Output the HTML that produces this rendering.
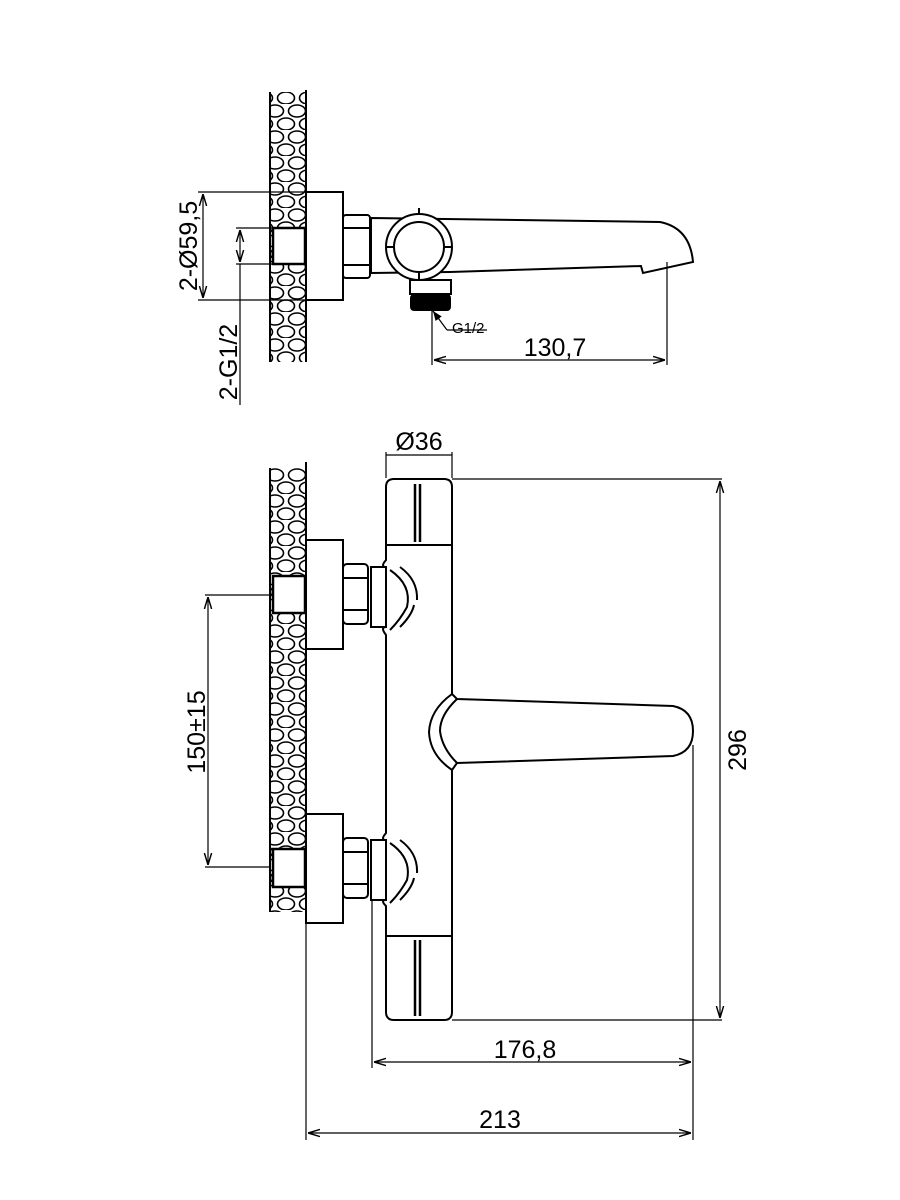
<!DOCTYPE html>
<html><head><meta charset="utf-8"><style>body{margin:0;background:#fff}svg{display:block}</style></head><body>
<svg width="900" height="1200" viewBox="0 0 900 1200" xmlns="http://www.w3.org/2000/svg" font-family="Liberation Sans, sans-serif">
<defs>
<pattern id="peb" width="22" height="26" patternUnits="userSpaceOnUse">
<rect width="22" height="26" fill="#fff"/>
<ellipse cx="11" cy="7" rx="8.5" ry="6" fill="none" stroke="#000" stroke-width="1.6"/>
<ellipse cx="0" cy="20" rx="8.5" ry="6" fill="none" stroke="#000" stroke-width="1.6"/>
<ellipse cx="22" cy="20" rx="8.5" ry="6" fill="none" stroke="#000" stroke-width="1.6"/>
</pattern>
<marker id="a" viewBox="0 0 10 10" refX="10" refY="5" markerWidth="10" markerHeight="10" orient="auto-start-reverse"><path d="M0,2 L10,5 L0,8" fill="none" stroke="#000" stroke-width="1.2"/></marker>
<marker id="f" viewBox="0 0 10 10" refX="10" refY="5" markerWidth="8" markerHeight="8" orient="auto"><path d="M0,1 L10,5 L0,9 Z" fill="#000"/></marker>
</defs>
<g stroke="#000" fill="none" stroke-width="2">
<!-- TOP VIEW -->
<path d="M270,92 L306,92 L306,362 L270,362 Z" fill="url(#peb)" stroke="none"/>
<path d="M270,92 L270,362 M306,90 L306,362"/>
<rect x="306" y="192" width="37" height="108" fill="#fff"/>
<rect x="273" y="228" width="32" height="36" fill="#fff" stroke-width="2.5"/>
<rect x="343" y="215" width="27" height="63" rx="3" fill="#fff"/>
<path d="M343,228 L370,228 M343,265 L370,265"/>
<path d="M371,218 L660,222 Q690,228 693,262 L643,273 L641,266 L450,272 L371,273 Z" fill="#fff"/>
<circle cx="419" cy="247" r="33" fill="#fff"/>
<circle cx="419" cy="247" r="25"/>
<path d="M419,214 L419,208 M419,280 L419,272 M386,247 L394,247 M444,247 L452,247"/>
<rect x="410" y="280" width="41" height="14" fill="#fff"/>
<rect x="411" y="295" width="39" height="15" rx="3" fill="#000"/>
<!-- top dims -->
<g stroke-width="1.2">
<path d="M198,192 L306,192 M198,300 L306,300 M236,228 L273,228 M236,264 L273,264"/>
<path d="M203,194 L203,298" marker-start="url(#a)" marker-end="url(#a)"/>
<path d="M240,230 L240,262" marker-start="url(#a)" marker-end="url(#a)"/>
<path d="M240,264 L240,405"/>
<path d="M432,298 L432,365 M667,262 L667,365"/>
<path d="M434,360 L665,360" marker-start="url(#a)" marker-end="url(#a)"/>
<path d="M447,330 L433,311" marker-end="url(#f)"/>
<path d="M447,330 L487,330"/>
</g>
<!-- FRONT VIEW -->
<path d="M270,468 L306,468 L306,912 L270,912 Z" fill="url(#peb)" stroke="none"/>
<path d="M270,468 L270,912 M306,462 L306,914"/>
<rect x="306" y="540" width="37" height="109" fill="#fff"/>
<rect x="306" y="814" width="37" height="109" fill="#fff"/>
<rect x="273" y="576" width="32" height="37" fill="#fff" stroke-width="2.5"/>
<rect x="273" y="849" width="32" height="38" fill="#fff" stroke-width="2.5"/>
<rect x="343" y="564" width="25" height="60" rx="4" fill="#fff"/>
<path d="M343,578 L368,578 M343,610 L368,610"/>
<rect x="343" y="838" width="25" height="60" rx="4" fill="#fff"/>
<path d="M343,852 L368,852 M343,884 L368,884"/>
<path d="M371,567 L386,567 L386,627 L371,627 Z M371,840 L386,840 L386,900 L371,900 Z" fill="#fff"/>
<path d="M386,545 L386,560 Q380,567 386,567 M386,627 Q380,627 386,635 L386,833 Q380,840 386,840 M386,900 Q380,900 386,906 L386,936"/>
<path d="M452,545 L452,694 M452,770 L452,936"/>
<path d="M390,570 Q412,585 407,607 Q400,620 390,630 M400,567 Q418,580 417,600 M400,627 Q412,615 414,605"/>
<path d="M390,843 Q412,858 407,880 Q400,893 390,903 M400,840 Q418,853 417,873 M400,900 Q412,888 414,878"/>
<path d="M386,487 Q386,479 394,479 L444,479 Q452,479 452,487 L452,545 L386,545 Z" fill="#fff"/>
<path d="M386,936 L452,936 L452,1012 Q452,1020 444,1020 L394,1020 Q386,1020 386,1012 Z" fill="#fff"/>
<path d="M415,484 L415,542 M420,484 L420,542 M415,940 L415,1016 M420,940 L420,1016" stroke-width="2.5"/>
<path d="M452,694 Q430,710 429,732 Q430,755 452,770"/>
<path d="M452,694 L457,699 L673,706 Q693,710 693,731 Q693,752 673,756 L457,763 L452,770"/>
<path d="M457,699 Q440,715 440,731 Q442,748 457,763"/>
<!-- front dims -->
<g stroke-width="1.2">
<path d="M386,478 L386,452 M452,478 L452,452"/>
<path d="M386,455 L452,455"/>
<path d="M452,479 L722,479 M452,1020 L722,1020"/>
<path d="M720,481 L720,1018" marker-start="url(#a)" marker-end="url(#a)"/>
<path d="M693,745 L693,1140 M372,900 L372,1068 M306,912 L306,1140"/>
<path d="M374,1062 L691,1062" marker-start="url(#a)" marker-end="url(#a)"/>
<path d="M308,1133 L691,1133" marker-start="url(#a)" marker-end="url(#a)"/>
<path d="M205,595 L270,595 M205,867 L270,867"/>
<path d="M208,597 L208,865" marker-start="url(#a)" marker-end="url(#a)"/>
</g>
</g>
<g fill="#000" font-size="25">
<text x="0" y="0" transform="translate(197,246) rotate(-90)" text-anchor="middle">2-Ø59,5</text>
<text x="0" y="0" transform="translate(237,362) rotate(-90)" text-anchor="middle">2-G1/2</text>
<text x="452" y="333" font-size="15">G1/2</text>
<text x="555" y="356" text-anchor="middle">130,7</text>
<text x="419" y="450" text-anchor="middle">Ø36</text>
<text x="0" y="0" transform="translate(746,750) rotate(-90)" text-anchor="middle">296</text>
<text x="0" y="0" transform="translate(205,732) rotate(-90)" text-anchor="middle">150±15</text>
<text x="525" y="1058" text-anchor="middle">176,8</text>
<text x="500" y="1128" text-anchor="middle">213</text>
</g>
</svg>
</body></html>
